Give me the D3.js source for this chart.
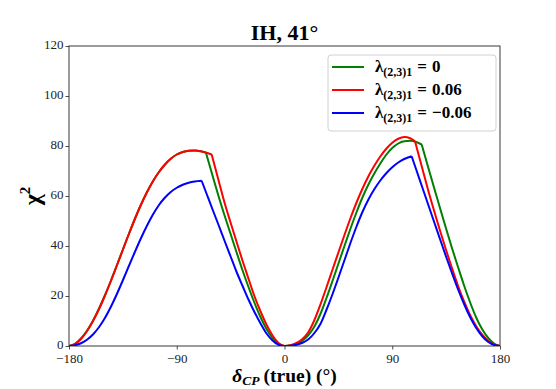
<!DOCTYPE html>
<html><head><meta charset="utf-8">
<script src="https://cdn.jsdelivr.net/npm/d3@7"></script>
<style>body{margin:0;background:#fff}svg{display:block}</style>
</head><body>
<svg id="c" width="556" height="389"></svg>
<script>
// ---- data ----
const xTicks = [-180, -90, 0, 90, 180];
const yTicks = [0, 20, 40, 60, 80, 100, 120];
const seriesColors = ["green", "red", "blue"];
const legendValues = ["0", "0.06", "\u22120.06"];

const deltaGreen = [-180,-175,-170,-165,-160,-155,-150,-145,-140,-135,-130,-125,-120,-115,-110,-105,-100,-95,-90,-85,-80,-75,-70,-65.6,
  -60,-55,-50,-45,-40,-35,-30,-25,-20,-15,-10,-5,0,
  5,10,15,20,25,30,35,40,45,50,55,60,65,70,75,80,85,90,95,100,105,110,114.6,
  120,125,130,135,140,145,150,155,160,165,170,175,180];
const chiGreen = [0,0.9,3.0,6.1,10.1,14.9,20.3,26.1,32.3,38.6,44.8,50.8,56.4,61.4,65.8,69.5,72.5,74.9,76.6,77.6,78.1,78.2,77.9,77.3,
  68.0,59.8,52.1,44.8,37.4,30.2,23.5,17.2,11.5,6.8,3.2,0.8,0,
  0.2,0.9,2.2,4.4,7.8,12.8,19.1,25.9,32.9,39.9,46.8,53.3,59.3,64.5,69.0,73.0,76.5,79.2,81.0,81.9,82.1,81.6,80.6,
  71.5,63.2,55.0,46.9,39.0,31.5,24.2,17.5,11.5,6.8,3.3,1.0,0];
const kinksGreen = [-65.6, 114.6];

const deltaRed = [-180,-175,-170,-165,-160,-155,-150,-145,-140,-135,-130,-125,-120,-115,-110,-105,-100,-95,-90,-85,-80,-75,-70,-65,-60.8,
  -55,-50,-45,-40,-35,-30,-25,-20,-15,-10,-5,0,
  5,10,15,20,25,30,35,40,45,50,55,60,65,70,75,80,85,90,95,100,105,109,
  115,120,125,130,135,140,145,150,155,160,165,170,175,180];
const chiRed = [0,0.8,2.8,5.9,9.9,14.7,20.1,26.0,32.2,38.5,44.8,50.8,56.4,61.4,65.8,69.5,72.5,74.9,76.6,77.6,78.1,78.2,77.9,77.3,76.6,
  66.1,57.2,49.3,41.6,34.0,26.8,19.8,13.8,8.5,4.2,1.2,0,
  0.3,1.2,2.8,5.6,10.4,16.6,23.4,30.4,37.4,44.3,51.0,57.2,62.8,67.8,72.1,75.8,78.9,81.3,82.9,83.6,83.1,81.9,
  71.2,62.3,54.0,46.0,38.3,31.0,24.0,17.8,12.4,8.0,4.6,2.1,0.6,0];
const kinksRed = [-60.8, 109];

const deltaBlue = [-180,-175,-170,-165,-160,-155,-150,-145,-140,-135,-130,-125,-120,-115,-110,-105,-100,-95,-90,-85,-80,-75,-69.2,
  -65,-60,-55,-50,-45,-40,-35,-30,-25,-20,-15,-10,-5,0,
  5,10,15,20,25,30,35,40,45,50,55,60,65,70,75,80,85,90,95,100,106.2,
  110,115,120,125,130,135,140,145,150,155,160,165,170,175,180];
const chiBlue = [0,0.3,1.1,2.5,4.6,7.5,11.2,15.7,20.8,26.3,32.0,37.6,43.0,48.0,52.5,56.3,59.3,61.6,63.3,64.5,65.3,65.8,66.1,
  60.8,54.5,48.3,42.0,35.8,29.6,24.0,18.5,13.5,9.0,5.0,2.2,0.5,0,
  0.1,0.5,1.3,2.7,5.2,8.8,14.4,20.6,27.3,34.2,41.1,47.6,53.5,58.5,62.7,66.2,69.1,71.5,73.4,74.8,75.9,
  70.6,63.6,56.6,49.6,42.6,35.7,29.0,22.6,16.8,11.6,7.3,4.0,1.7,0.4,0];
const kinksBlue = [-69.2, 106.2];

// ---- layout ----
const svg = d3.select("#c");
const L = 69, R = 500, T = 46, B = 346;
const x = d3.scaleLinear().domain([-180, 180]).range([L, R]);
const y = d3.scaleLinear().domain([0, 120]).range([B, T]);
const serif = "'Liberation Serif', 'DejaVu Serif', serif";

svg.append("defs").append("clipPath").attr("id", "clip")
  .append("rect").attr("x", L).attr("y", T).attr("width", R - L).attr("height", B - T);

const series = [
  {d: deltaGreen, c: chiGreen, k: kinksGreen},
  {d: deltaRed, c: chiRed, k: kinksRed},
  {d: deltaBlue, c: chiBlue, k: kinksBlue}
];

const lineGen = d3.line().x(p => x(p[0])).y(p => y(p[1])).curve(d3.curveMonotoneX);
const gLines = svg.append("g").attr("clip-path", "url(#clip)");
series.forEach((s, i) => {
  const pts = s.d.map((v, j) => [v, s.c[j]]);
  const segs = [];
  let cur = [];
  pts.forEach(p => {
    cur.push(p);
    if (s.k.includes(p[0])) { segs.push(cur); cur = [p]; }
  });
  segs.push(cur);
  const dStr = segs.map(sg => lineGen(sg)).join("");
  gLines.append("path").attr("d", dStr).attr("fill", "none")
    .attr("stroke", seriesColors[i]).attr("stroke-width", 2)
    .attr("stroke-linejoin", "miter");
});

// axes
const xAxis = svg.append("g").attr("transform", `translate(0,${B})`)
  .call(d3.axisBottom(x).tickValues(xTicks).tickSize(3.5).tickPadding(3)
    .tickFormat(v => v < 0 ? "\u2212" + Math.abs(v) : String(v)));
const yAxis = svg.append("g").attr("transform", `translate(${L},0)`)
  .call(d3.axisLeft(y).tickValues(yTicks).tickSize(3.5).tickPadding(2));
[xAxis, yAxis].forEach(a => {
  a.select(".domain").remove();
  a.selectAll("line").attr("stroke", "#222").attr("stroke-width", 0.8);
  a.selectAll("text").attr("font-family", serif).attr("font-size", 13).attr("fill", "#222");
});
xAxis.selectAll("text").attr("dy", "0.8em");
yAxis.selectAll("text").attr("dy", "0.18em");

// frame
svg.append("rect").attr("x", L).attr("y", T).attr("width", R - L).attr("height", B - T)
  .attr("fill", "none").attr("stroke", "#222").attr("stroke-width", 0.9);

// title
svg.append("text").attr("x", (L + R) / 2).attr("y", 40).attr("text-anchor", "middle")
  .attr("font-family", serif).attr("font-weight", "bold").attr("font-size", 22)
  .text("IH, 41°");

// x label
const xl = svg.append("text").attr("x", (L + R) / 2).attr("y", 382).attr("text-anchor", "middle")
  .attr("font-family", serif).attr("font-weight", "bold").attr("font-size", 19.5);
xl.append("tspan").attr("font-style", "italic").text("δ");
xl.append("tspan").attr("font-style", "italic").attr("font-size", 13.5).attr("dy", 2.5).text("CP");
xl.append("tspan").attr("dy", -2.5).attr("dx", 4).text("(true) (°)");

// y label
const yl = svg.append("text").attr("transform", "translate(40,196) rotate(-90)")
  .attr("text-anchor", "middle").attr("font-family", serif).attr("font-weight", "bold").attr("font-size", 24);
yl.append("tspan").text("χ");
yl.append("tspan").attr("font-size", 15).attr("dy", -10).text("2");

// legend
const lg = svg.append("g");
lg.append("rect").attr("x", 328).attr("y", 55).attr("width", 168).attr("height", 76)
  .attr("rx", 3).attr("fill", "white").attr("fill-opacity", 0.8)
  .attr("stroke", "#d0d0d0").attr("stroke-width", 1);
const rowY = [67, 90, 113];
seriesColors.forEach((c, i) => {
  lg.append("line").attr("x1", 332).attr("x2", 364).attr("y1", rowY[i]).attr("y2", rowY[i])
    .attr("stroke", c).attr("stroke-width", 2);
  const t = lg.append("text").attr("x", 375).attr("y", rowY[i] + 5)
    .attr("font-family", serif).attr("font-weight", "bold").attr("font-size", 17);
  t.append("tspan").text("λ");
  t.append("tspan").attr("font-size", 12).attr("dy", 4).text("(2,3)1");
  t.append("tspan").attr("dy", -4).attr("dx", 5).text("=");
  t.append("tspan").attr("dx", 5).text(legendValues[i]);
});
</script>
</body></html>
